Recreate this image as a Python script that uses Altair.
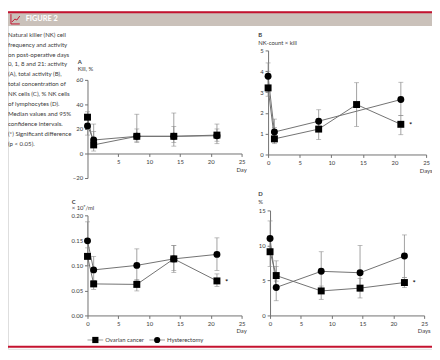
import altair as alt
import pandas as pd

W, H = 432, 344
FONT = "Lato"
LINE_C = "#707070"
ERR_C = "#8a8a8a"
AXIS_C = "#707070"
TEXT_C = "#3a3a3a"
RED = "#c4122f"
HEADER_BG = "#cac1ba"

series_names = ["Ovarian cancer", "Hysterectomy"]
days = [0, 1, 8, 14, 21]
days_d = [0, 1, 8.3, 14.6, 21.8]

caption_lines = [
    "Natural killer (NK) cell",
    "frequency and activity",
    "on post-operative days",
    "0, 1, 8 and 21: activity",
    "(A), total activity (B),",
    "total concentration of",
    "NK cells (C), % NK cells",
    "of lymphocytes (D).",
    "Median values and 95%",
    "confidence intervals.",
    "(*) Significant difference",
    "(p < 0.05).",
]

# Panel A: Kill, %
a_ov = [29.6, 7.0, 14.0, 14.0, 15.0]
a_ov_lo = [21, 2, 9, 6, 8]
a_ov_hi = [34, 18, 20, 22, 24]
a_hy = [22.5, 11.0, 14.0, 14.0, 14.5]
a_hy_lo = [15, 5, 10, 9, 10]
a_hy_hi = [28, 24, 32, 33, 20]

# Panel B: NK-count x kill
b_ov = [3.2, 0.75, 1.22, 2.4, 1.45]
b_ov_lo = [2.8, 0.52, 0.72, 1.35, 0.95]
b_ov_hi = [4.0, 1.3, 1.7, 3.45, 1.87]
b_hy = [3.76, 1.08, 1.6, None, 2.64]
b_hy_lo = [3.0, 0.8, 1.1, None, 1.87]
b_hy_hi = [4.4, 1.7, 2.15, None, 3.47]

# Panel C: x 10^9/ml
c_ov = [0.118, 0.063, 0.062, 0.113, 0.069]
c_ov_lo = [0.100, 0.052, 0.049, 0.086, 0.058]
c_ov_hi = [0.135, 0.070, 0.072, 0.140, 0.083]
c_hy = [0.149, 0.091, 0.100, 0.113, 0.122]
c_hy_lo = [0.120, 0.070, 0.070, 0.090, 0.090]
c_hy_hi = [0.187, 0.118, 0.133, 0.140, 0.155]

# Panel D: %
d_ov = [9.1, 5.7, 3.5, 3.9, 4.7]
d_ov_lo = [7.0, 4.9, 2.3, 2.5, 4.0]
d_ov_hi = [11.0, 7.8, 4.2, 5.3, 5.4]
d_hy = [11.0, 4.0, 6.3, 6.1, 8.5]
d_hy_lo = [9.0, 2.1, 3.3, 3.5, 5.4]
d_hy_hi = [13.5, 7.0, 9.1, 10.0, 11.5]


def frame(x, ov, ov_lo, ov_hi, hy, hy_lo, hy_hi):
    rows = []
    for name, v, lo, hi in [(series_names[0], ov, ov_lo, ov_hi),
                            (series_names[1], hy, hy_lo, hy_hi)]:
        for d, a, l, h in zip(x, v, lo, hi):
            if a is None:
                continue
            rows.append(dict(day=d, series=name, value=a, lo=l, hi=h))
    return pd.DataFrame(rows)


shape_scale = alt.Scale(domain=series_names, range=["square", "circle"])


def panel(df, xr, yr, ydom, yvals, xvals, yfmt, star=False):
    y0pix = yr[0] + (0 - ydom[0]) / (ydom[1] - ydom[0]) * (yr[1] - yr[0])
    xs = alt.Scale(domain=[0, 25], range=xr, nice=False, zero=False)
    ys = alt.Scale(domain=ydom, range=yr, nice=False, zero=False)
    common = dict(grid=False, domainColor=AXIS_C, tickColor=AXIS_C, tickSize=3,
                  labelFontSize=6, labelColor=TEXT_C, labelFont=FONT,
                  labelFlush=False, labelOverlap=False, title=None,
                  domainWidth=1, tickWidth=1)
    xax = alt.Axis(orient="bottom", offset=y0pix - H, values=xvals,
                   labelPadding=2, **common)
    yax = alt.Axis(orient="left", offset=-xr[0], values=yvals, format=yfmt,
                   labelPadding=2, **common)
    X = alt.X("day:Q", scale=xs, axis=xax)
    base = alt.Chart(df)
    err = base.mark_rule(color=ERR_C, strokeWidth=0.8).encode(
        x=X, y=alt.Y("lo:Q", scale=ys, axis=yax), y2="hi:Q")
    cap_lo = base.mark_tick(color=ERR_C, orient="horizontal", size=5, thickness=0.8).encode(
        x=X, y=alt.Y("lo:Q", scale=ys, axis=yax))
    cap_hi = base.mark_tick(color=ERR_C, orient="horizontal", size=5, thickness=0.8).encode(
        x=X, y=alt.Y("hi:Q", scale=ys, axis=yax))
    line = base.mark_line(color=LINE_C, strokeWidth=1).encode(
        x=X, y=alt.Y("value:Q", scale=ys, axis=yax), detail="series:N")
    pts = base.mark_point(filled=True, color="black", size=50, opacity=1).encode(
        x=X, y=alt.Y("value:Q", scale=ys, axis=yax),
        shape=alt.Shape("series:N", scale=shape_scale, legend=None))
    layers = [err, cap_lo, cap_hi, line, pts]
    if star:
        s = base.transform_filter(
            (alt.datum.series == series_names[0]) & (alt.datum.day > 20)
        ).mark_text(text="*", dx=10, dy=2, fontSize=8, color="black", font=FONT).encode(
            x=X, y=alt.Y("value:Q", scale=ys, axis=yax))
        layers.append(s)
    return alt.layer(*layers)


def txt(s, x, y, size=6, weight="normal", color=TEXT_C, align="left", baseline="middle"):
    return alt.Chart(pd.DataFrame({"t": [s]})).mark_text(
        align=align, baseline=baseline, fontSize=size, fontWeight=weight,
        color=color, font=FONT).encode(x=alt.value(x), y=alt.value(y), text="t:N")


def seg(x1, y1, x2, y2, color, w):
    return alt.Chart(pd.DataFrame({"k": [0]})).mark_rule(color=color, strokeWidth=w).encode(
        x=alt.value(x1), y=alt.value(y1), x2=alt.value(x2), y2=alt.value(y2))


dfA = frame(days, a_ov, a_ov_lo, a_ov_hi, a_hy, a_hy_lo, a_hy_hi)
dfB = frame(days, b_ov, b_ov_lo, b_ov_hi, b_hy, b_hy_lo, b_hy_hi)
dfC = frame(days, c_ov, c_ov_lo, c_ov_hi, c_hy, c_hy_lo, c_hy_hi)
dfD = frame(days_d, d_ov, d_ov_lo, d_ov_hi, d_hy, d_hy_lo, d_hy_hi)

pA = panel(dfA, [81, 238], [170, 70], [-20, 60], [-20, 0, 20, 40, 60],
           [5, 10, 15, 20, 25], "d")
pB = panel(dfB, [265, 426], [146, 40], [0, 5], [0, 1, 2, 3, 4, 5],
           [0, 5, 10, 15, 20, 25], "d", star=True)
pC = panel(dfC, [81, 238], [310, 208], [0, 0.2], [0, 0.05, 0.1, 0.15, 0.2],
           [0, 5, 10, 15, 20, 25], ".2f", star=True)
pD = panel(dfD, [267, 424], [310, 203], [0, 15], [0, 5, 10, 15],
           [0, 5, 10, 15, 20, 25], "d", star=True)

# header
header = [
    alt.Chart(pd.DataFrame({"k": [0]})).mark_rect(color=HEADER_BG).encode(
        x=alt.value(0), x2=alt.value(W), y=alt.value(1), y2=alt.value(15)),
    seg(0, 1, W, 1, RED, 2),
    seg(3, 3, 3, 13, RED, 1),
    seg(3, 13, 12, 13, RED, 1),
    seg(4, 11, 7, 8, RED, 1),
    seg(7, 8, 9, 9, RED, 1),
    seg(9, 9, 12, 5, RED, 1),
    txt("FIGURE 2", 18, 8.5, size=7.5, weight="bold", color="white"),
    seg(0, 342, W, 342, RED, 2),
]

caption = alt.Chart(pd.DataFrame({"k": [0]})).mark_text(
    align="left", baseline="top", fontSize=6.2, lineHeight=10.1, color=TEXT_C, font=FONT
).encode(x=alt.value(0), y=alt.value(21), text=alt.value(caption_lines))

labels = [
    txt("A", 71, 52, weight="bold"),
    txt("Kill, %", 71, 59),
    txt("B", 255, 24, weight="bold"),
    txt("NK-count × kill", 255, 32),
    txt("C", 65, 194, weight="bold"),
    txt("× 10⁹/ml", 65, 201),
    txt("D", 255, 186, weight="bold"),
    txt("%", 255, 194),
    txt("Day", 238, 162, align="center"),
    txt("Days", 426, 163, align="center"),
    txt("Day", 238, 326, align="center"),
    txt("Days", 424, 326, align="center"),
]

# legend
leg_df = pd.DataFrame({"series": series_names, "slot": [0, 1]})
LX = alt.X("slot:Q", scale=alt.Scale(domain=[0, 1], range=[89, 152]), axis=None)
leg_base = alt.Chart(leg_df)
legend = alt.layer(
    leg_base.mark_tick(orient="horizontal", size=16, thickness=1, color=LINE_C).encode(
        x=LX, y=alt.value(335)),
    leg_base.mark_point(filled=True, color="black", size=40, opacity=1).encode(
        x=LX, y=alt.value(335),
        shape=alt.Shape("series:N", scale=shape_scale, legend=None)),
    leg_base.mark_text(align="left", dx=10, fontSize=6, color=TEXT_C, font=FONT).encode(
        x=LX, y=alt.value(335), text="series:N"),
)

chart = alt.layer(
    *header, caption, *labels, pA, pB, pC, pD, legend
).resolve_scale(x="independent", y="independent").properties(
    width=W, height=H, autosize=alt.AutoSizeParams(type="none"), padding=0
).configure_view(stroke=None).configure(font=FONT)

chart.save("out.html", embed_options={"renderer": "svg", "actions": False})
